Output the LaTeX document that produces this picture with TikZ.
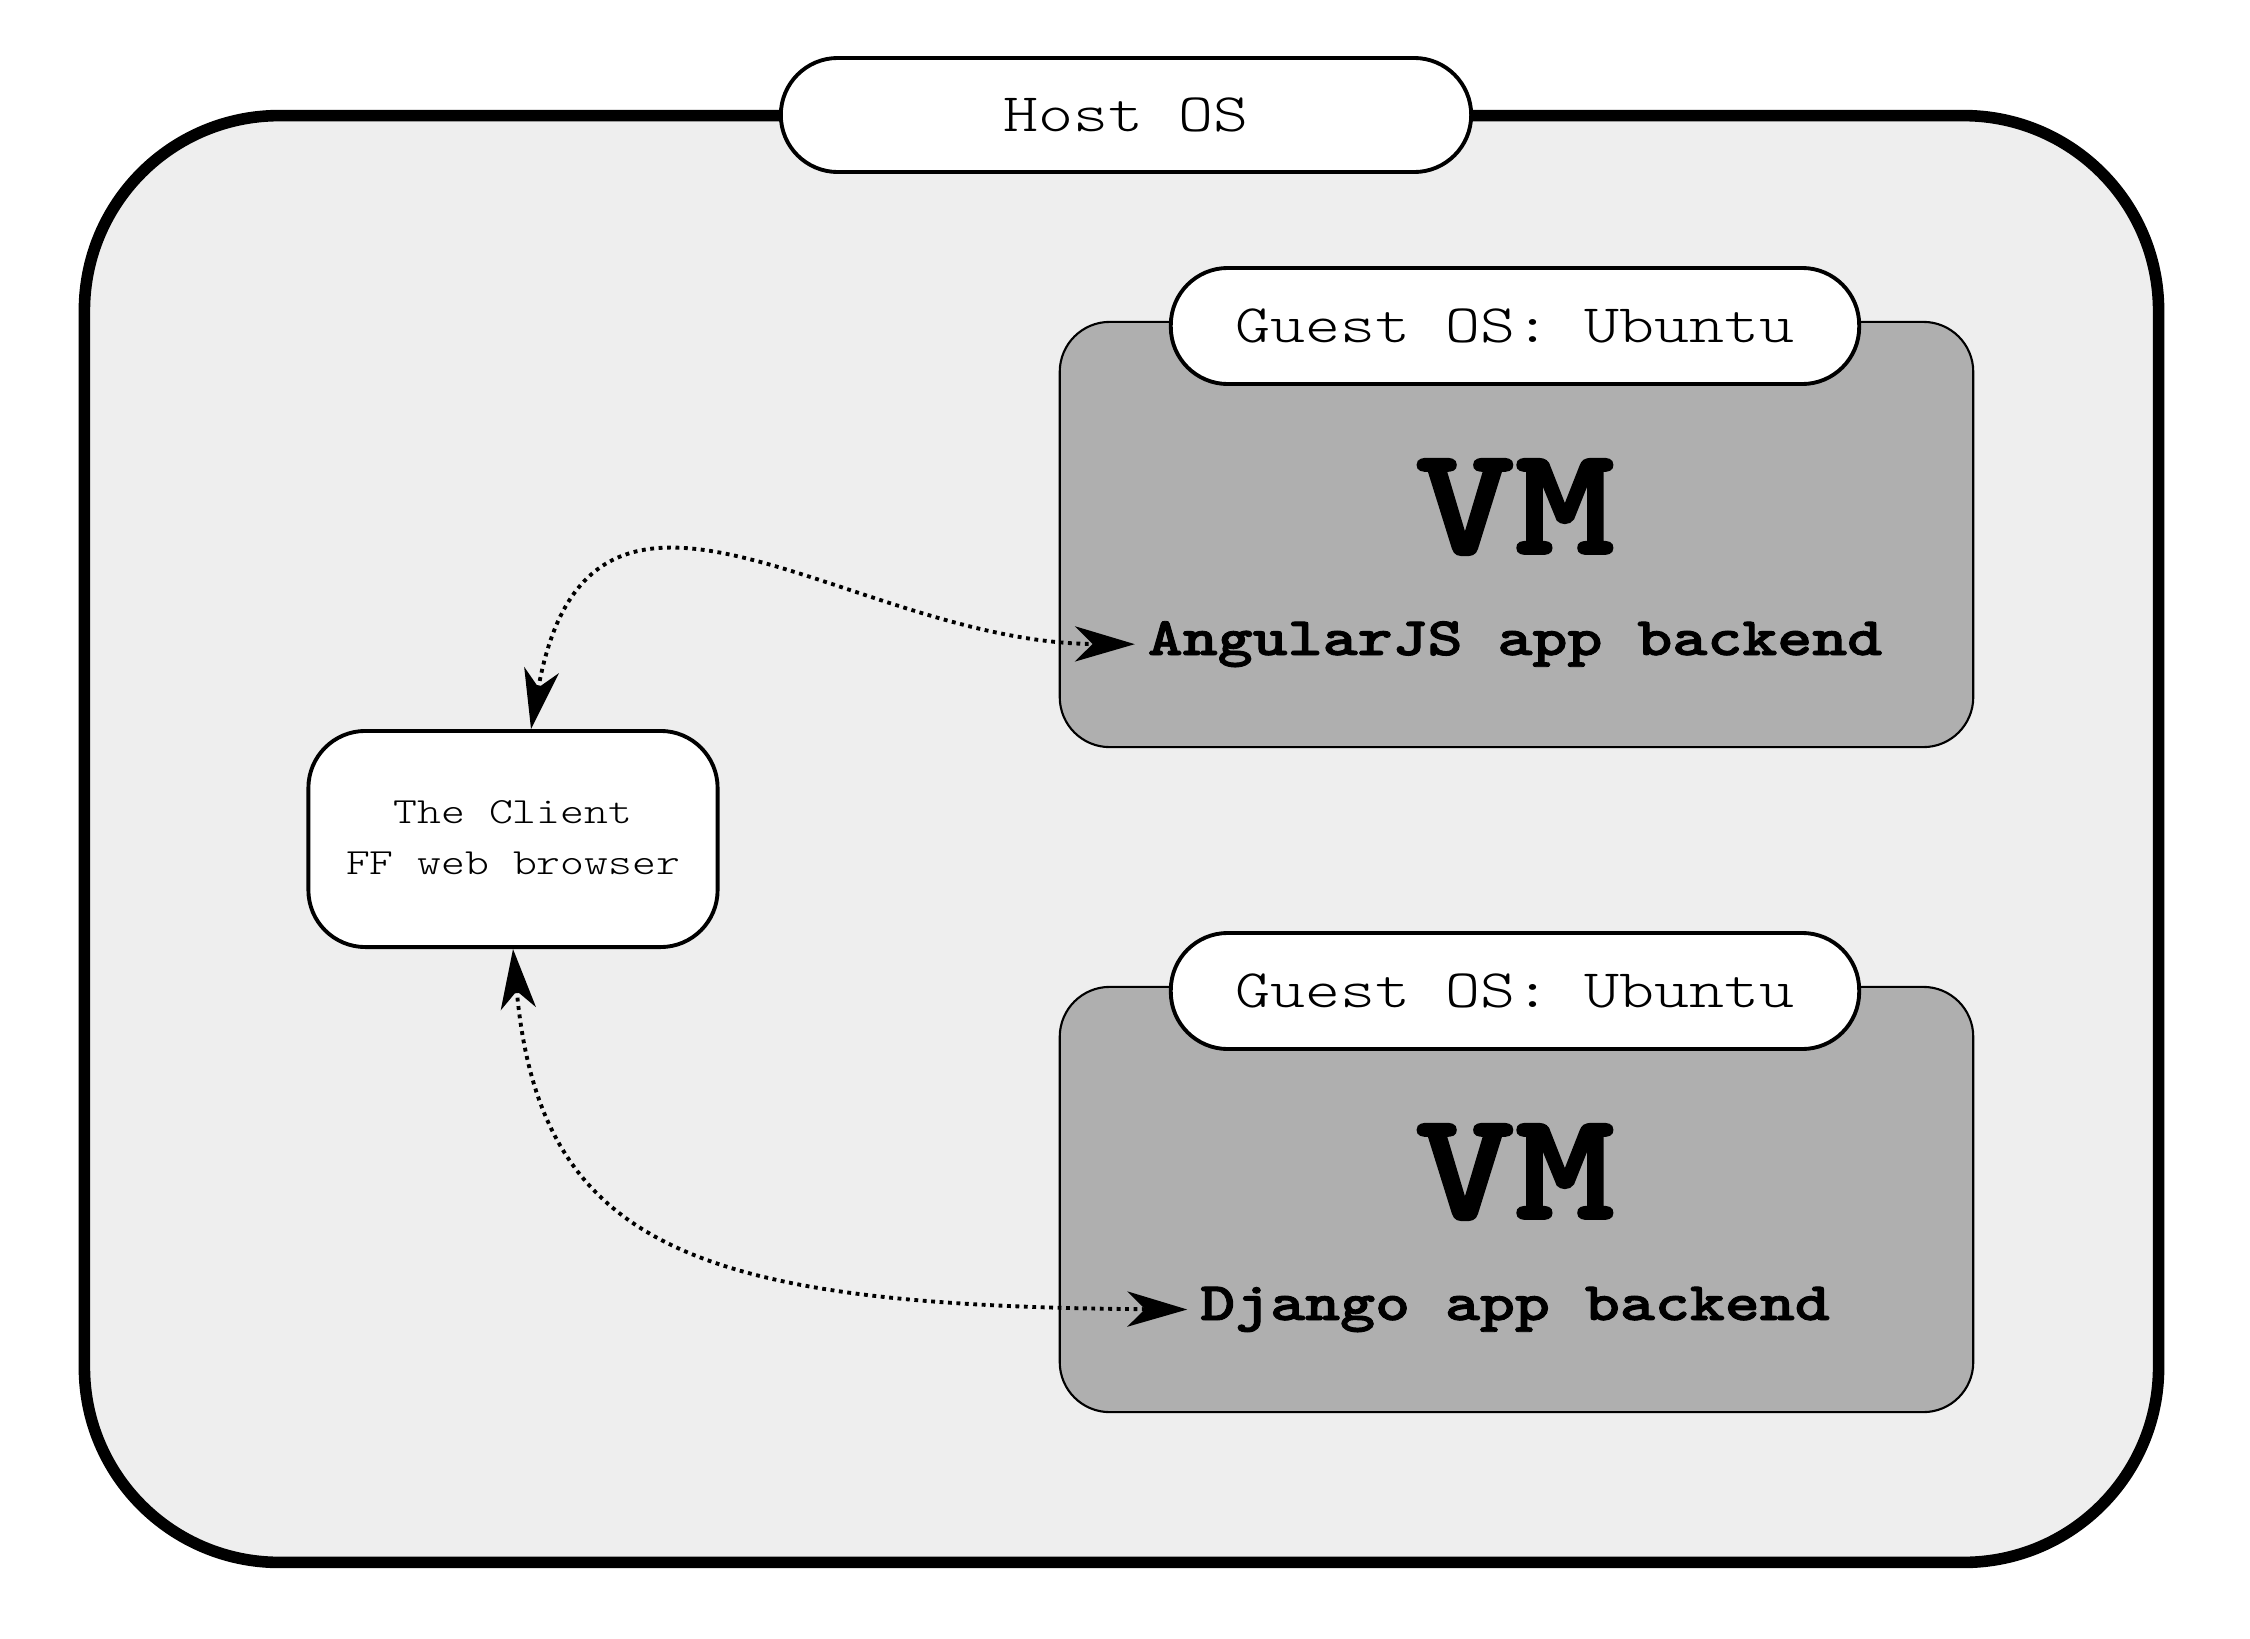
\documentclass[tikz,border=0pt]{standalone}
\usepackage{fontspec}
\usetikzlibrary{arrows.meta}
\newfontfamily\heavytt{lmmonolt10-bold.otf}[FakeBold=1.6]
\definecolor{hostbg}{RGB}{238,238,238}
\definecolor{guestbg}{RGB}{175,175,175}
\newcommand{\stx}[1]{\scalebox{1.23}[1]{#1}}
\begin{document}
\begin{tikzpicture}[x=0.01cm,y=-0.01cm,
  pill/.style={draw, line width=1.1pt, fill=white, rounded corners=0.57cm,
    minimum width=6.9cm, minimum height=1.14cm, inner sep=0pt,
    font=\ttfamily\fontseries{l}\fontsize{15.4}{18}\selectfont},
  vmbox/.style={draw, line width=0.6pt, fill=guestbg, rounded corners=0.5cm,
    minimum width=9.13cm, minimum height=4.25cm},
  vmtext/.style={font=\heavytt\fontsize{44}{50}\selectfont, inner sep=0pt},
  apptext/.style={font=\heavytt\fontsize{15.4}{18}\selectfont, anchor=base, inner sep=3.5pt},
  tip/.tip={Stealth[length=17pt,width=10pt,inset=5pt]},
  conn/.style={line width=1.1pt, dash pattern=on 1.1pt off 1.3pt, tip-tip},
]
\useasboundingbox (0,0) rectangle (2250,1639);
\fill[white] (0,0) rectangle (2250,1639);
% host
\node[draw, line width=3.3pt, fill=hostbg, rounded corners=1.95cm,
  minimum width=20.73cm, minimum height=14.46cm] (host) at (1121.5,839) {};
\node[pill] (hostlbl) at (1126,115) {\stx{Host OS}};
% guest 1
\node[vmbox] (g1) at (1516.5,534.5) {};
\node[pill, minimum width=6.88cm, minimum height=1.16cm] (g1lbl) at (1515,326) {\stx{Guest OS: Ubuntu}};
\node[vmtext] (vm1) at (1515,507) {\stx{VM}};
% guest 2
\node[vmbox] (g2) at (1516.5,1199.5) {};
\node[pill, minimum width=6.88cm, minimum height=1.16cm] (g2lbl) at (1515,991) {\stx{Guest OS: Ubuntu}};
\node[vmtext] (vm2) at (1515,1172) {\stx{VM}};
% client
\node[draw, line width=1.1pt, fill=white, rounded corners=0.57cm,
  minimum width=4.09cm, minimum height=2.16cm, inner sep=0pt,
  font=\ttfamily\fontseries{l}\fontsize{10.5}{14.5}\selectfont] (client) at (513,839)
  {\stx{\begin{tabular}{@{}c@{}}The Client\\FF web browser\end{tabular}}};
% app texts
\node[apptext] (ang) at (1515,655) {\stx{AngularJS app backend}};
\node[apptext] (dj) at (1515,1320) {\stx{Django app backend}};
% connectors
\draw[conn] ([xshift=0.18cm]client.north) .. controls (590,400) and (850,643) .. (ang.west);
\draw[conn] (client.south) .. controls (540,1250) and (700,1306) .. (dj.west);
\end{tikzpicture}
\end{document}
